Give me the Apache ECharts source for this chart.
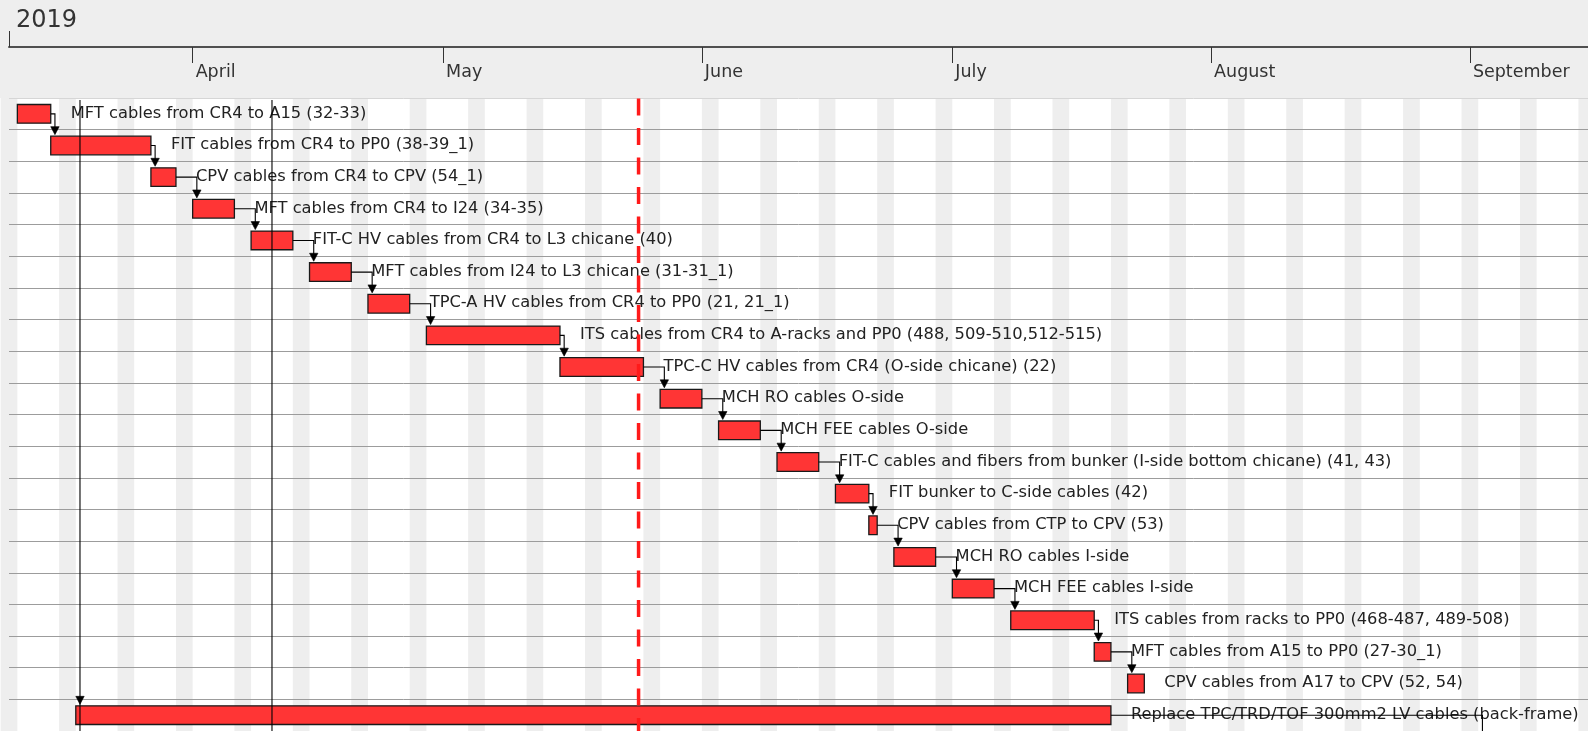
<!DOCTYPE html>
<html>
<head>
<meta charset="utf-8">
<script src="https://cdn.jsdelivr.net/npm/echarts@6/dist/echarts.min.js"></script>
<style>
  html, body { margin: 0; padding: 0; background: #ffffff; }
  #chart { width: 1588px; height: 731px; }
</style>
</head>
<body>
<div id="chart"></div>
<script>
// ---------------- data ----------------
const taskNames = [
  'MFT cables from CR4 to A15 (32-33)',
  'FIT cables from CR4 to PP0 (38-39_1)',
  'CPV cables from CR4 to CPV (54_1)',
  'MFT cables from CR4 to I24 (34-35)',
  'FIT-C HV cables from CR4 to L3 chicane (40)',
  'MFT cables from I24 to L3 chicane (31-31_1)',
  'TPC-A HV cables from CR4 to PP0 (21, 21_1)',
  'ITS cables from CR4 to A-racks and PP0 (488, 509-510,512-515)',
  'TPC-C HV cables from CR4 (O-side chicane) (22)',
  'MCH RO cables O-side',
  'MCH FEE cables O-side',
  'FIT-C cables and fibers from bunker (I-side bottom chicane) (41, 43)',
  'FIT bunker to C-side cables (42)',
  'CPV cables from CTP to CPV (53)',
  'MCH RO cables I-side',
  'MCH FEE cables I-side',
  'ITS cables from racks to PP0 (468-487, 489-508)',
  'MFT cables from A15 to PP0 (27-30_1)',
  'CPV cables from A17 to CPV (52, 54)',
  'Replace TPC/TRD/TOF 300mm2 LV cables (back-frame)'
];
const taskStart = [
  '2019-03-11','2019-03-15','2019-03-27','2019-04-01','2019-04-08',
  '2019-04-15','2019-04-22','2019-04-29','2019-05-15','2019-05-27',
  '2019-06-03','2019-06-10','2019-06-17','2019-06-21','2019-06-24',
  '2019-07-01','2019-07-08','2019-07-18','2019-07-22','2019-03-18'
];
const taskEnd = [
  '2019-03-15','2019-03-27','2019-03-30','2019-04-06','2019-04-13',
  '2019-04-20','2019-04-27','2019-05-15','2019-05-25','2019-06-01',
  '2019-06-08','2019-06-15','2019-06-21','2019-06-22','2019-06-29',
  '2019-07-06','2019-07-18','2019-07-20','2019-07-24','2019-07-20'
];
// dependency links between visible tasks [from, to]
const links = [
  [0,1],[1,2],[2,3],[3,4],[4,5],[5,6],[6,7],[7,8],[8,9],
  [9,10],[10,11],[11,12],[12,13],[13,14],[14,15],[15,16],[16,17],[17,18]
];
// links to tasks outside the visible rows
const throughLinks = ['2019-03-18','2019-04-10'];   // start dates of tasks below, reached from tasks above
const incomingFromAbove = [19];                      // task index with a predecessor above the view
const outgoingBelow = [[19, '2019-09-02']];          // [task index, start date of successor below]

const monthTicks = ['2019-04-01','2019-05-01','2019-06-01','2019-07-01','2019-08-01','2019-09-01'];
const monthLabels = ['April','May','June','July','August','September'];
const yearLabel = '2019';
const weekendStarts = [
  '2019-03-09','2019-03-16','2019-03-23','2019-03-30','2019-04-06','2019-04-13','2019-04-20',
  '2019-04-27','2019-05-04','2019-05-11','2019-05-18','2019-05-25','2019-06-01','2019-06-08',
  '2019-06-15','2019-06-22','2019-06-29','2019-07-06','2019-07-13','2019-07-20','2019-07-27',
  '2019-08-03','2019-08-10','2019-08-17','2019-08-24','2019-08-31','2019-09-07','2019-09-14'
];
const todayMark = '2019-05-24 10:00';
const viewStart = '2019-03-10';
const viewEnd = '2019-09-15 03:36';

// ---------------- helpers ----------------
function ts(s) {
  const parts = s.split(' ');
  const [y, m, d] = parts[0].split('-').map(Number);
  let hh = 0, mm = 0;
  if (parts[1]) { [hh, mm] = parts[1].split(':').map(Number); }
  return new Date(y, m - 1, d, hh, mm).getTime();
}
const DAY = 86400000;
const startTs = taskStart.map(ts);
const endTs = taskEnd.map(ts);
const monthTs = monthTicks.map(ts);
const minTs = ts(viewStart);
const maxTs = ts(viewEnd);
const FONT = '"DejaVu Sans", "Liberation Sans", sans-serif';
const BAR_FRAC = 0.59;
const AW = 4.2, AH = 8, AGAP = 1.5, AOFF = 4.2;

const rowLineColors = ['#d6d6d6'].concat(new Array(20).fill('#9c9c9c'));

function arrowHead(ax, tip) {
  return { type: 'polygon', shape: { points: [[ax - AW, tip - AH], [ax + AW, tip - AH], [ax, tip]] },
           style: { fill: '#000000', stroke: '#000000', lineWidth: 0.6 } };
}

const chart = echarts.init(document.getElementById('chart'));

const option = {
  animation: false,
  backgroundColor: '#ffffff',
  graphic: [{
    type: 'rect', z: -5,
    shape: { x: 0, y: 0, width: 1588, height: 98 },
    style: { fill: '#eeeeee' }
  }],
  grid: { left: 9, right: 0, top: 98, height: 635 },
  xAxis: [
    {
      type: 'value', position: 'top', offset: 51, min: minTs, max: maxTs, scale: true,
      axisLine: { show: true, lineStyle: { color: '#4f4f4f', width: 2 } },
      axisTick: { show: true, inside: true, length: 16, customValues: monthTs,
                  lineStyle: { color: '#333333', width: 1 } },
      axisLabel: {
        show: true, inside: true, customValues: monthTs, margin: 16,
        align: 'left', verticalAlign: 'top', padding: [0, 0, 0, 3],
        fontFamily: FONT, fontSize: 17.5, color: '#333333',
        formatter: function (v) {
          let best = -1, bd = Infinity;
          monthTs.forEach((m, i) => { const d = Math.abs(m - v); if (d < bd) { bd = d; best = i; } });
          return bd < DAY ? monthLabels[best] : '';
        }
      },
      splitLine: { show: false }
    },
    {
      type: 'value', position: 'top', offset: 51, min: minTs, max: maxTs, scale: true,
      axisLine: { show: false },
      axisTick: { show: true, inside: false, length: 16, customValues: [minTs],
                  lineStyle: { color: '#333333', width: 1 } },
      axisLabel: {
        show: true, inside: false, customValues: [minTs], margin: 14,
        align: 'left', padding: [0, 0, 0, 7],
        fontFamily: FONT, fontSize: 24, color: '#333333',
        formatter: function () { return yearLabel; }
      },
      splitLine: { show: false }
    }
  ],
  yAxis: {
    type: 'category', inverse: true, data: taskNames,
    axisLine: { show: false }, axisTick: { show: false }, axisLabel: { show: false },
    splitLine: { show: true, interval: 0, lineStyle: { color: rowLineColors, width: 1 } }
  },
  series: [
    // weekend stripes
    {
      type: 'custom', z: -1, silent: true, clip: false,
      data: weekendStarts.map(s => [ts(s), 0]),
      encode: { x: 0, y: 1 },
      renderItem: function (params, api) {
        const s = api.value(0);
        const x1 = api.coord([s, 0])[0];
        const x2 = api.coord([s + 2 * DAY, 0])[0];
        const cs = params.coordSys;
        return { type: 'rect', shape: { x: x1, y: cs.y, width: x2 - x1, height: cs.height },
                 style: { fill: '#eeeeee' } };
      }
    },
    // task bars + labels
    {
      type: 'custom', z: 3, clip: false,
      data: taskNames.map((n, i) => [startTs[i], endTs[i], i]),
      encode: { x: [0, 1], y: 2 },
      renderItem: function (params, api) {
        const i = api.value(2);
        const s = api.coord([api.value(0), i]);
        const e = api.coord([api.value(1), i]);
        const h = api.size([0, 1])[1] * BAR_FRAC;
        return {
          type: 'group',
          children: [
            { type: 'rect', shape: { x: s[0], y: s[1] - h / 2, width: e[0] - s[0], height: h },
              style: { fill: '#ff3535', stroke: '#1a1a1a', lineWidth: 1.3 } },
            { type: 'text', style: { x: e[0] + 20, y: s[1] - 0.5, text: taskNames[i], fill: '#222222',
              font: '16.3px ' + FONT, align: 'left', verticalAlign: 'middle' } }
          ]
        };
      }
    },
    // dependency links
    {
      type: 'custom', z: 4, silent: true, clip: false,
      data: links.map(l => [startTs[l[1]], l[1], l[0]]),
      encode: { x: 0, y: 1 },
      renderItem: function (params, api) {
        const to = api.value(1), from = api.value(2);
        const pEnd = api.coord([endTs[from], from]);
        const nStart = api.coord([startTs[to], to]);
        const h = api.size([0, 1])[1] * BAR_FRAC;
        const ax = Math.max(pEnd[0], nStart[0]) + AOFF;
        const tip = nStart[1] - h / 2 - AGAP;
        return {
          type: 'group',
          children: [
            { type: 'polyline', shape: { points: [[pEnd[0], pEnd[1]], [ax, pEnd[1]], [ax, tip - AH + 1]] },
              style: { stroke: '#000000', lineWidth: 1.1, fill: null } },
            arrowHead(ax, tip)
          ]
        };
      }
    },
    // links passing through the view
    {
      type: 'custom', z: 4, silent: true, clip: false,
      data: throughLinks.map(s => [ts(s), 0]),
      encode: { x: 0, y: 1 },
      renderItem: function (params, api) {
        const x = api.coord([api.value(0), 0])[0] + AOFF;
        const cs = params.coordSys;
        return { type: 'line', shape: { x1: x, y1: cs.y + 2, x2: x, y2: cs.y + cs.height },
                 style: { stroke: '#000000', lineWidth: 1.1 } };
      }
    },
    // arrowheads of links coming from above
    {
      type: 'custom', z: 4, silent: true, clip: false,
      data: incomingFromAbove.map(i => [startTs[i], i]),
      encode: { x: 0, y: 1 },
      renderItem: function (params, api) {
        const i = api.value(1);
        const p = api.coord([api.value(0), i]);
        const h = api.size([0, 1])[1] * BAR_FRAC;
        return arrowHead(p[0] + AOFF, p[1] - h / 2 - AGAP);
      }
    },
    // links going to tasks below the view
    {
      type: 'custom', z: 4, silent: true, clip: false,
      data: outgoingBelow.map(o => [ts(o[1]), o[0]]),
      encode: { x: 0, y: 1 },
      renderItem: function (params, api) {
        const i = api.value(1);
        const pEnd = api.coord([endTs[i], i]);
        const ax = api.coord([api.value(0), i])[0] + AOFF;
        const cs = params.coordSys;
        return { type: 'polyline', shape: { points: [[pEnd[0], pEnd[1]], [ax, pEnd[1]], [ax, cs.y + cs.height]] },
                 style: { stroke: '#000000', lineWidth: 1.1, fill: null } };
      }
    },
    // today marker
    {
      type: 'custom', z: 6, silent: true, clip: false,
      data: [[ts(todayMark), 0]],
      encode: { x: 0, y: 1 },
      renderItem: function (params, api) {
        const x = api.coord([api.value(0), 0])[0];
        const cs = params.coordSys;
        return { type: 'line', shape: { x1: x, y1: cs.y + 0.5, x2: x, y2: cs.y + cs.height },
                 style: { stroke: '#ff1a1a', lineWidth: 3.5, lineDash: [17, 12.5] } };
      }
    }
  ]
};
chart.setOption(option);
</script>
</body>
</html>
